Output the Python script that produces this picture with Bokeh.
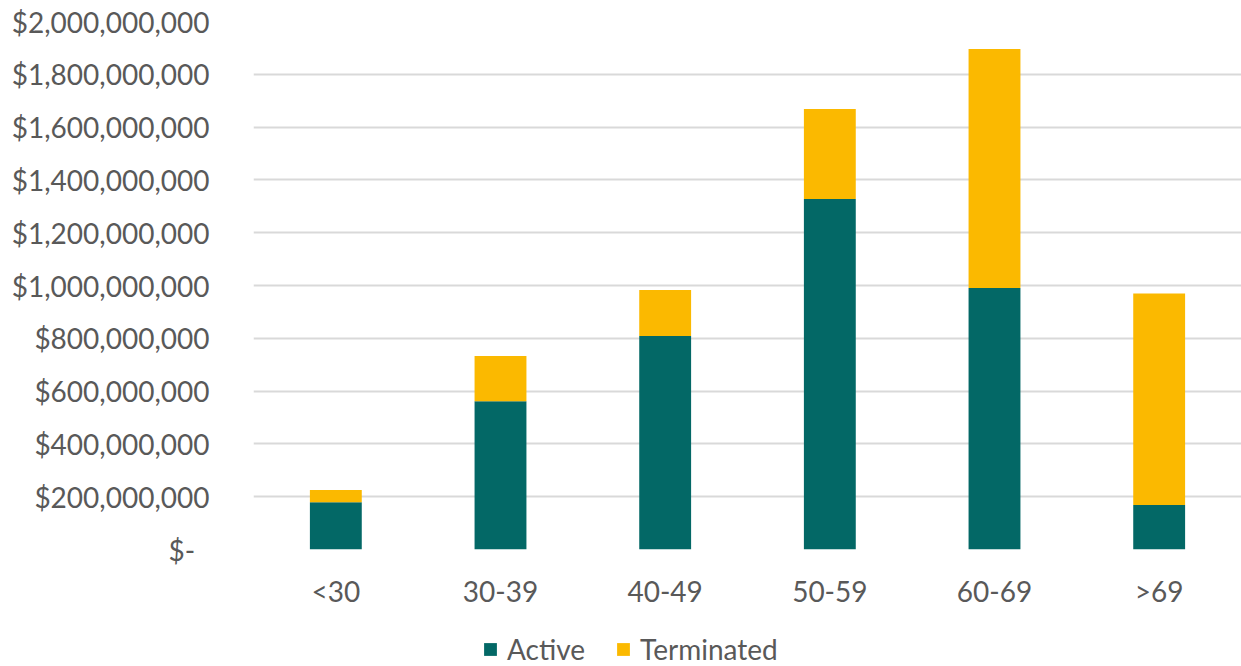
from bokeh.plotting import figure
from bokeh.layouts import column
from bokeh.models import ColumnDataSource, CustomJSTickFormatter, Legend, LegendItem, FixedTicker
from bokeh.embed import file_html
from bokeh.resources import INLINE

categories = ["<30", "30-39", "40-49", "50-59", "60-69", ">69"]
active = [179e6, 562e6, 809e6, 1328e6, 991e6, 169e6]
terminated = [46e6, 171e6, 174e6, 341e6, 905e6, 801e6]
y_ticks = [0, 200e6, 400e6, 600e6, 800e6, 1000e6, 1200e6, 1400e6, 1600e6, 1800e6, 2000e6]
series_names = ["Active", "Terminated"]

FONT = "Lato"
TXT = "#595959"
TEAL = "#036866"
GOLD = "#FBB900"
colors = [TEAL, GOLD]

src = ColumnDataSource(dict(cat=categories, Active=active, Terminated=terminated))

p = figure(x_range=categories, y_range=(0, 2000e6),
           frame_width=988, frame_height=528,
           output_backend="svg", toolbar_location=None,
           min_border_left=253, min_border_right=0, min_border_top=21, min_border_bottom=71)
p.outline_line_color = None
p.background_fill_color = "white"
p.border_fill_color = "white"

r = p.vbar_stack(series_names, x="cat", width=0.315, source=src,
                 color=colors, line_color=None)

p.xgrid.grid_line_color = None
p.ygrid.grid_line_color = "#d9d9d9"
p.ygrid.grid_line_width = 2
p.yaxis.ticker = FixedTicker(ticks=y_ticks)
p.yaxis.formatter = CustomJSTickFormatter(code="""
if (tick == 0) { return "$-  "; }
return "$" + Math.round(tick).toLocaleString("en-US");
""")
for ax in (p.xaxis[0], p.yaxis[0]):
    ax.axis_line_color = None
    ax.major_tick_line_color = None
    ax.minor_tick_line_color = None
    ax.major_label_text_font = FONT
    ax.major_label_text_font_size = "28px"
    ax.major_label_text_color = TXT
p.yaxis.major_label_standoff = 38
p.xaxis.major_label_standoff = 18

# legend strip below the chart (its frame is aligned with the chart frame)
lf = figure(width=1241, height=46, x_range=(0, 1), y_range=(0, 1),
            x_axis_type=None, y_axis_type=None,
            output_backend="svg", toolbar_location=None,
            min_border_left=0, min_border_right=0, min_border_top=0, min_border_bottom=0)
lf.outline_line_color = None
lf.xgrid.grid_line_color = None
lf.ygrid.grid_line_color = None
# zero-height proxy bars, only used to give the legend its colour swatches
dummy = [lf.vbar(x=[0.5], top=[0], width=0.0, fill_color=c, line_color=None) for c in colors]

legend = Legend(items=[LegendItem(label=n, renderers=[d]) for n, d in zip(series_names, dummy)],
                orientation="horizontal", location=(229, 0),
                label_text_font=FONT, label_text_font_size="28px",
                label_text_color=TXT, glyph_width=16, glyph_height=16,
                spacing=30, padding=0, margin=0, label_standoff=9,
                border_line_color=None, background_fill_alpha=0)
lf.add_layout(legend, "center")

layout = column(p, lf, spacing=0)
open("out.html", "w").write(file_html(layout, INLINE))
